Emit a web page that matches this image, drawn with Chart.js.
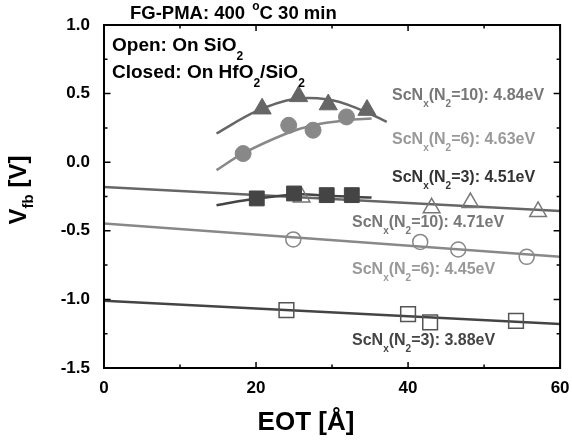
<!DOCTYPE html>
<html>
<head>
<meta charset="utf-8">
<script src="https://cdn.jsdelivr.net/npm/chart.js@4.4.0/dist/chart.umd.min.js"></script>
<style>
body{margin:0;background:#fff;}
#wrap{width:572px;height:443px;}
</style>
</head>
<body>
<div id="wrap"><canvas id="vfb"></canvas></div>
<script>
// Vfb vs EOT, FG-PMA 400C 30min
// closed symbols = ScNx on HfO2/SiO2, open symbols = ScNx on SiO2
var hfTriEot = [20.8, 25.6, 29.5, 34.6];
var hfTriVfb = [0.39, 0.48, 0.42, 0.38];
var hfCirEot = [18.3, 24.3, 27.5, 31.9];
var hfCirVfb = [0.063, 0.269, 0.233, 0.33];
var hfSqEot = [20.1, 25.0, 29.3, 32.6];
var hfSqVfb = [-0.264, -0.228, -0.24, -0.24];

var siTriEot = [26.0, 43.1, 48.2, 57.1];
var siTriVfb = [-0.255, -0.333, -0.295, -0.36];
var siCirEot = [24.9, 41.6, 46.6, 55.6];
var siCirVfb = [-0.563, -0.581, -0.636, -0.69];
var siSqEot = [24.0, 40.0, 42.9, 54.2];
var siSqVfb = [-1.078, -1.107, -1.167, -1.156];

// fitted lines on SiO2 (read at both ends)
var fitEot = [0, 60];
var fitTri = [-0.18, -0.355];
var fitCir = [-0.447, -0.69];
var fitSq = [-1.01, -1.18];

// guide curves on HfO2/SiO2
var crvTriEot = [14.8, 20, 25, 29.5, 33, 37.2];
var crvTriVfb = [0.209, 0.37, 0.46, 0.457, 0.40, 0.294];
var crvCirEot = [14.8, 18.3, 24.0, 27.5, 31.9, 35.2];
var crvCirVfb = [-0.058, 0.064, 0.209, 0.27, 0.306, 0.318];
var crvSqEot = [14.8, 20.1, 25.8, 29.3, 35.2];
var crvSqVfb = [-0.313, -0.265, -0.233, -0.245, -0.257];

var xTicks = [0, 20, 40, 60];
var yTicks = [-1.5, -1.0, -0.5, 0.0, 0.5, 1.0];

var fam = '"Liberation Sans", Arial, sans-serif';

function pts(xs, ys) {
    return xs.map(function(x, i) { return {x: x, y: ys[i]}; });
}

function marker(xs, ys, style, r, fill, stroke, bw) {
    return {
        data: pts(xs, ys),
        pointStyle: style,
        pointRadius: r,
        pointBackgroundColor: fill,
        pointBorderColor: stroke,
        pointBorderWidth: bw,
        showLine: false
    };
}

function line(xs, ys, color, tension) {
    return {
        data: pts(xs, ys),
        showLine: true,
        pointRadius: 0,
        borderColor: color,
        borderWidth: 2.5,
        tension: tension
    };
}

// text with sub/superscripts: parts = [[text, 'sub'|'sup'|null], ...]
function rich(ctx, x, y, parts, size, color) {
    ctx.fillStyle = color;
    ctx.textAlign = 'left';
    ctx.textBaseline = 'alphabetic';
    parts.forEach(function(p) {
        var s = p[1] ? Math.round(size * 0.65) : size;
        ctx.font = 'bold ' + s + 'px ' + fam;
        var dy = p[1] == 'sub' ? size * 0.45 : (p[1] == 'sup' ? -size * 0.45 : 0);
        ctx.fillText(p[0], x, y + dy);
        x += ctx.measureText(p[0]).width;
    });
    return x;
}

function scnx(n2, ev) {
    return [['ScN', null], ['x', 'sub'], ['(N', null], ['2', 'sub'], ['=' + n2 + '): ' + ev, null]];
}

var frame = {
    id: 'frame',
    afterDraw: function(chart) {
        var ctx = chart.ctx, a = chart.chartArea;
        var xs = chart.scales.x, ys = chart.scales.y;
        ctx.save();
        ctx.strokeStyle = '#000';
        ctx.lineWidth = 2;
        ctx.strokeRect(a.left, a.top, a.right - a.left, a.bottom - a.top);
        ctx.lineWidth = 1.5;
        ctx.beginPath();
        for (var v = 0; v <= 60; v += 10) {
            var px = xs.getPixelForValue(v);
            var len = v % 20 == 0 ? 6 : 3.5;
            ctx.moveTo(px, a.bottom); ctx.lineTo(px, a.bottom - len);
            ctx.moveTo(px, a.top); ctx.lineTo(px, a.top + len);
        }
        for (var k = -6; k <= 4; k++) {
            var py = ys.getPixelForValue(k * 0.25);
            var l2 = k % 2 == 0 ? 6.5 : 3.5;
            ctx.moveTo(a.left, py); ctx.lineTo(a.left + l2, py);
            ctx.moveTo(a.right, py); ctx.lineTo(a.right - l2, py);
        }
        ctx.stroke();

        // title and symbol key
        var tx = rich(ctx, 130, 18.5, [['FG-PMA: 400 ', null]], 18.5, '#000');
        tx = rich(ctx, tx + 2, 18.5, [['o', 'sup']], 18.5, '#000');
        rich(ctx, tx, 18.5, [['C 30 min', null]], 18.5, '#000');
        rich(ctx, 112, 51, [['Open: On SiO', null], ['2', 'sub']], 19, '#000');
        rich(ctx, 112, 78, [['Closed: On HfO', null], ['2', 'sub'], ['/SiO', null], ['2', 'sub']], 19, '#000');

        // work function labels
        rich(ctx, 392, 100, scnx('10', '4.84eV'), 16, '#777');
        rich(ctx, 392, 143.5, scnx('6', '4.63eV'), 16, '#999');
        rich(ctx, 392, 181.7, scnx('3', '4.51eV'), 16, '#333');
        rich(ctx, 352, 226.7, scnx('10', '4.71eV'), 16, '#777');
        rich(ctx, 352, 274, scnx('6', '4.45eV'), 16, '#999');
        rich(ctx, 352, 345, scnx('3', '3.88eV'), 16, '#444');

        // axis titles
        ctx.font = 'bold 26px ' + fam;
        ctx.textAlign = 'center';
        ctx.fillStyle = '#000';
        ctx.fillText('EOT [\u00c5]', 306, 430);

        ctx.translate(26, 190);
        ctx.rotate(-Math.PI / 2);
        ctx.font = 'bold 24px ' + fam;
        var w1 = ctx.measureText('V').width;
        ctx.font = 'bold 15px ' + fam;
        var w2 = ctx.measureText('fb').width;
        ctx.font = 'bold 24px ' + fam;
        var w3 = ctx.measureText(' [V]').width;
        var x0 = -(w1 + w2 + w3) / 2;
        ctx.textAlign = 'left';
        ctx.fillText('V', x0, 0);
        ctx.font = 'bold 15px ' + fam;
        ctx.fillText('fb', x0 + w1, 7);
        ctx.font = 'bold 24px ' + fam;
        ctx.fillText(' [V]', x0 + w1 + w2, 0);
        ctx.restore();
    }
};

var ctx = document.getElementById('vfb').getContext('2d');
var myChart = new Chart(ctx, {
    type: 'scatter',
    data: {
        datasets: [
            marker(hfSqEot, hfSqVfb, 'rect', 10.5, '#444', '#444', 1),
            marker(hfCirEot, hfCirVfb, 'circle', 8, '#888', '#888', 1),
            marker(hfTriEot, hfTriVfb, 'triangle', 10.5, '#666', '#666', 1),
            marker(siTriEot, siTriVfb, 'triangle', 9.6, 'rgba(0,0,0,0)', '#777', 1.5),
            marker(siCirEot, siCirVfb, 'circle', 7.5, 'rgba(0,0,0,0)', '#888', 1.5),
            marker(siSqEot, siSqVfb, 'rect', 10.4, 'rgba(0,0,0,0)', '#555', 1.5),
            line(crvSqEot, crvSqVfb, '#444', 0.35),
            line(crvCirEot, crvCirVfb, '#888', 0.35),
            line(crvTriEot, crvTriVfb, '#666', 0.35),
            line(fitEot, fitTri, '#666', 0),
            line(fitEot, fitCir, '#888', 0),
            line(fitEot, fitSq, '#444', 0)
        ]
    },
    options: {
        responsive: true,
        maintainAspectRatio: false,
        animation: false,
        events: [],
        layout: { padding: { top: 25, right: 11, left: 0, bottom: 0 } },
        plugins: {
            legend: { display: false },
            tooltip: { enabled: false }
        },
        scales: {
            x: {
                type: 'linear',
                min: 0,
                max: 60,
                afterFit: function(s) { s.height = 75; s.paddingLeft = 0; s.paddingRight = 0; },
                afterBuildTicks: function(s) { s.ticks = xTicks.map(function(v) { return {value: v}; }); },
                grid: { display: false, drawTicks: false },
                border: { display: false },
                ticks: {
                    padding: 10,
                    color: '#000',
                    font: { family: fam, size: 17, weight: 'bold' }
                }
            },
            y: {
                type: 'linear',
                min: -1.5,
                max: 1.0,
                afterFit: function(s) { s.width = 104; s.paddingTop = 0; s.paddingBottom = 0; },
                afterBuildTicks: function(s) { s.ticks = yTicks.map(function(v) { return {value: v}; }); },
                grid: { display: false, drawTicks: false },
                border: { display: false },
                ticks: {
                    padding: 14,
                    color: '#000',
                    font: { family: fam, size: 17, weight: 'bold' },
                    callback: function(v) { return v.toFixed(1); }
                }
            }
        }
    },
    plugins: [frame]
});
</script>
</body>
</html>
